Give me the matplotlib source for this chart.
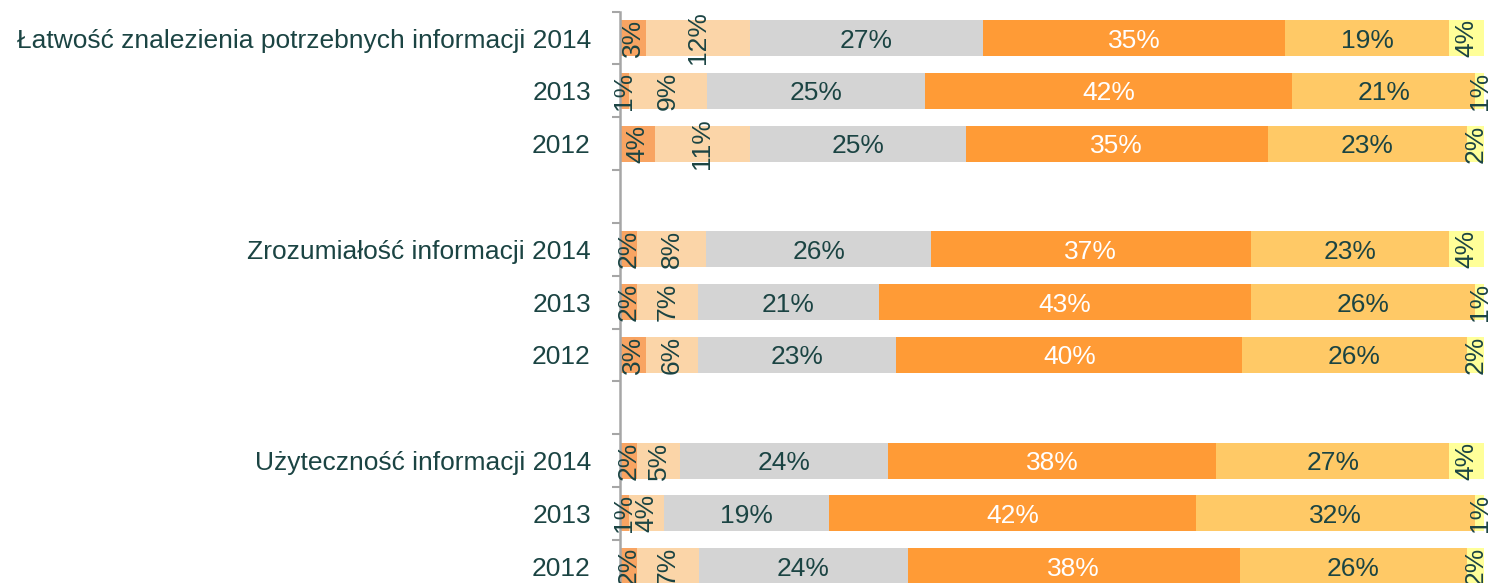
import numpy as np
import matplotlib
matplotlib.use('Agg')
from matplotlib import pyplot as plt

plt.rcParams['font.family'] = ['Liberation Sans', 'DejaVu Sans']

# etykiety wierszy (od góry), None = przerwa między grupami
row_labels = ['Łatwość znalezienia potrzebnych informacji 2014', '2013', '2012', None,
              'Zrozumiałość informacji 2014', '2013', '2012', None,
              'Użyteczność informacji 2014', '2013', '2012']

# wartości sześciu kategorii odpowiedzi dla każdego wiersza
s1 = [3, 1, 4, 2, 2, 3, 2, 1, 2]
s2 = [12, 9, 11, 8, 7, 6, 5, 4, 7]
s3 = [27, 25, 25, 26, 21, 23, 24, 19, 24]
s4 = [35, 42, 35, 37, 43, 40, 38, 42, 38]
s5 = [19, 21, 23, 23, 26, 26, 27, 32, 26]
s6 = [4, 1, 2, 4, 1, 2, 4, 1, 2]

colors = ['#F8A462', '#FBD5A8', '#D4D4D4', '#FF9B36', '#FFC966', '#FFFF99']
txt_color = '#1B4443'

series = np.array([s1, s2, s3, s4, s5, s6], dtype=float)
# 100% skumulowane - każdy wiersz skalowany do 100
scaled = series / series.sum(axis=0) * 100

n_slots = len(row_labels)
ypos = [i for i, l in enumerate(row_labels) if l is not None]

fig = plt.figure(figsize=(14.9, 5.83), dpi=100)
ax = fig.add_axes([620 / 1490, -9.6 / 583, 864 / 1490, 581 / 583])

fs = 19
left = np.zeros(len(ypos))
for k in range(6):
    ax.barh(ypos, scaled[k], left=left, height=0.68, color=colors[k], edgecolor='none')
    for j, y in enumerate(ypos):
        v = series[k][j]
        xc = left[j] + scaled[k][j] / 2
        col = 'white' if k == 3 else txt_color
        if v <= 12:
            ax.text(xc, y, '%d%%' % v, rotation=90, ha='center', va='center',
                    fontsize=fs, color=col)
        else:
            ax.text(xc, y, '%d%%' % v, ha='center', va='center_baseline',
                    fontsize=fs, color=col)
    left += scaled[k]

ax.set_xlim(0, 100)
ax.set_ylim(n_slots - 0.5, -0.5)

ax.set_yticks(ypos)
ax.set_yticklabels([row_labels[i] for i in ypos], fontsize=fs, color=txt_color)
ax.tick_params(axis='y', which='major', length=0, pad=21)
ax.set_yticks(np.arange(-0.5, n_slots, 1), minor=True)
ax.tick_params(axis='y', which='minor', length=6, width=1.5, color='#A6A6A6')
ax.set_xticks([])

for s in ['top', 'right', 'bottom']:
    ax.spines[s].set_visible(False)
ax.spines['left'].set_color('#A6A6A6')
ax.spines['left'].set_linewidth(1.8)

fig.savefig('out.png', dpi=100)
